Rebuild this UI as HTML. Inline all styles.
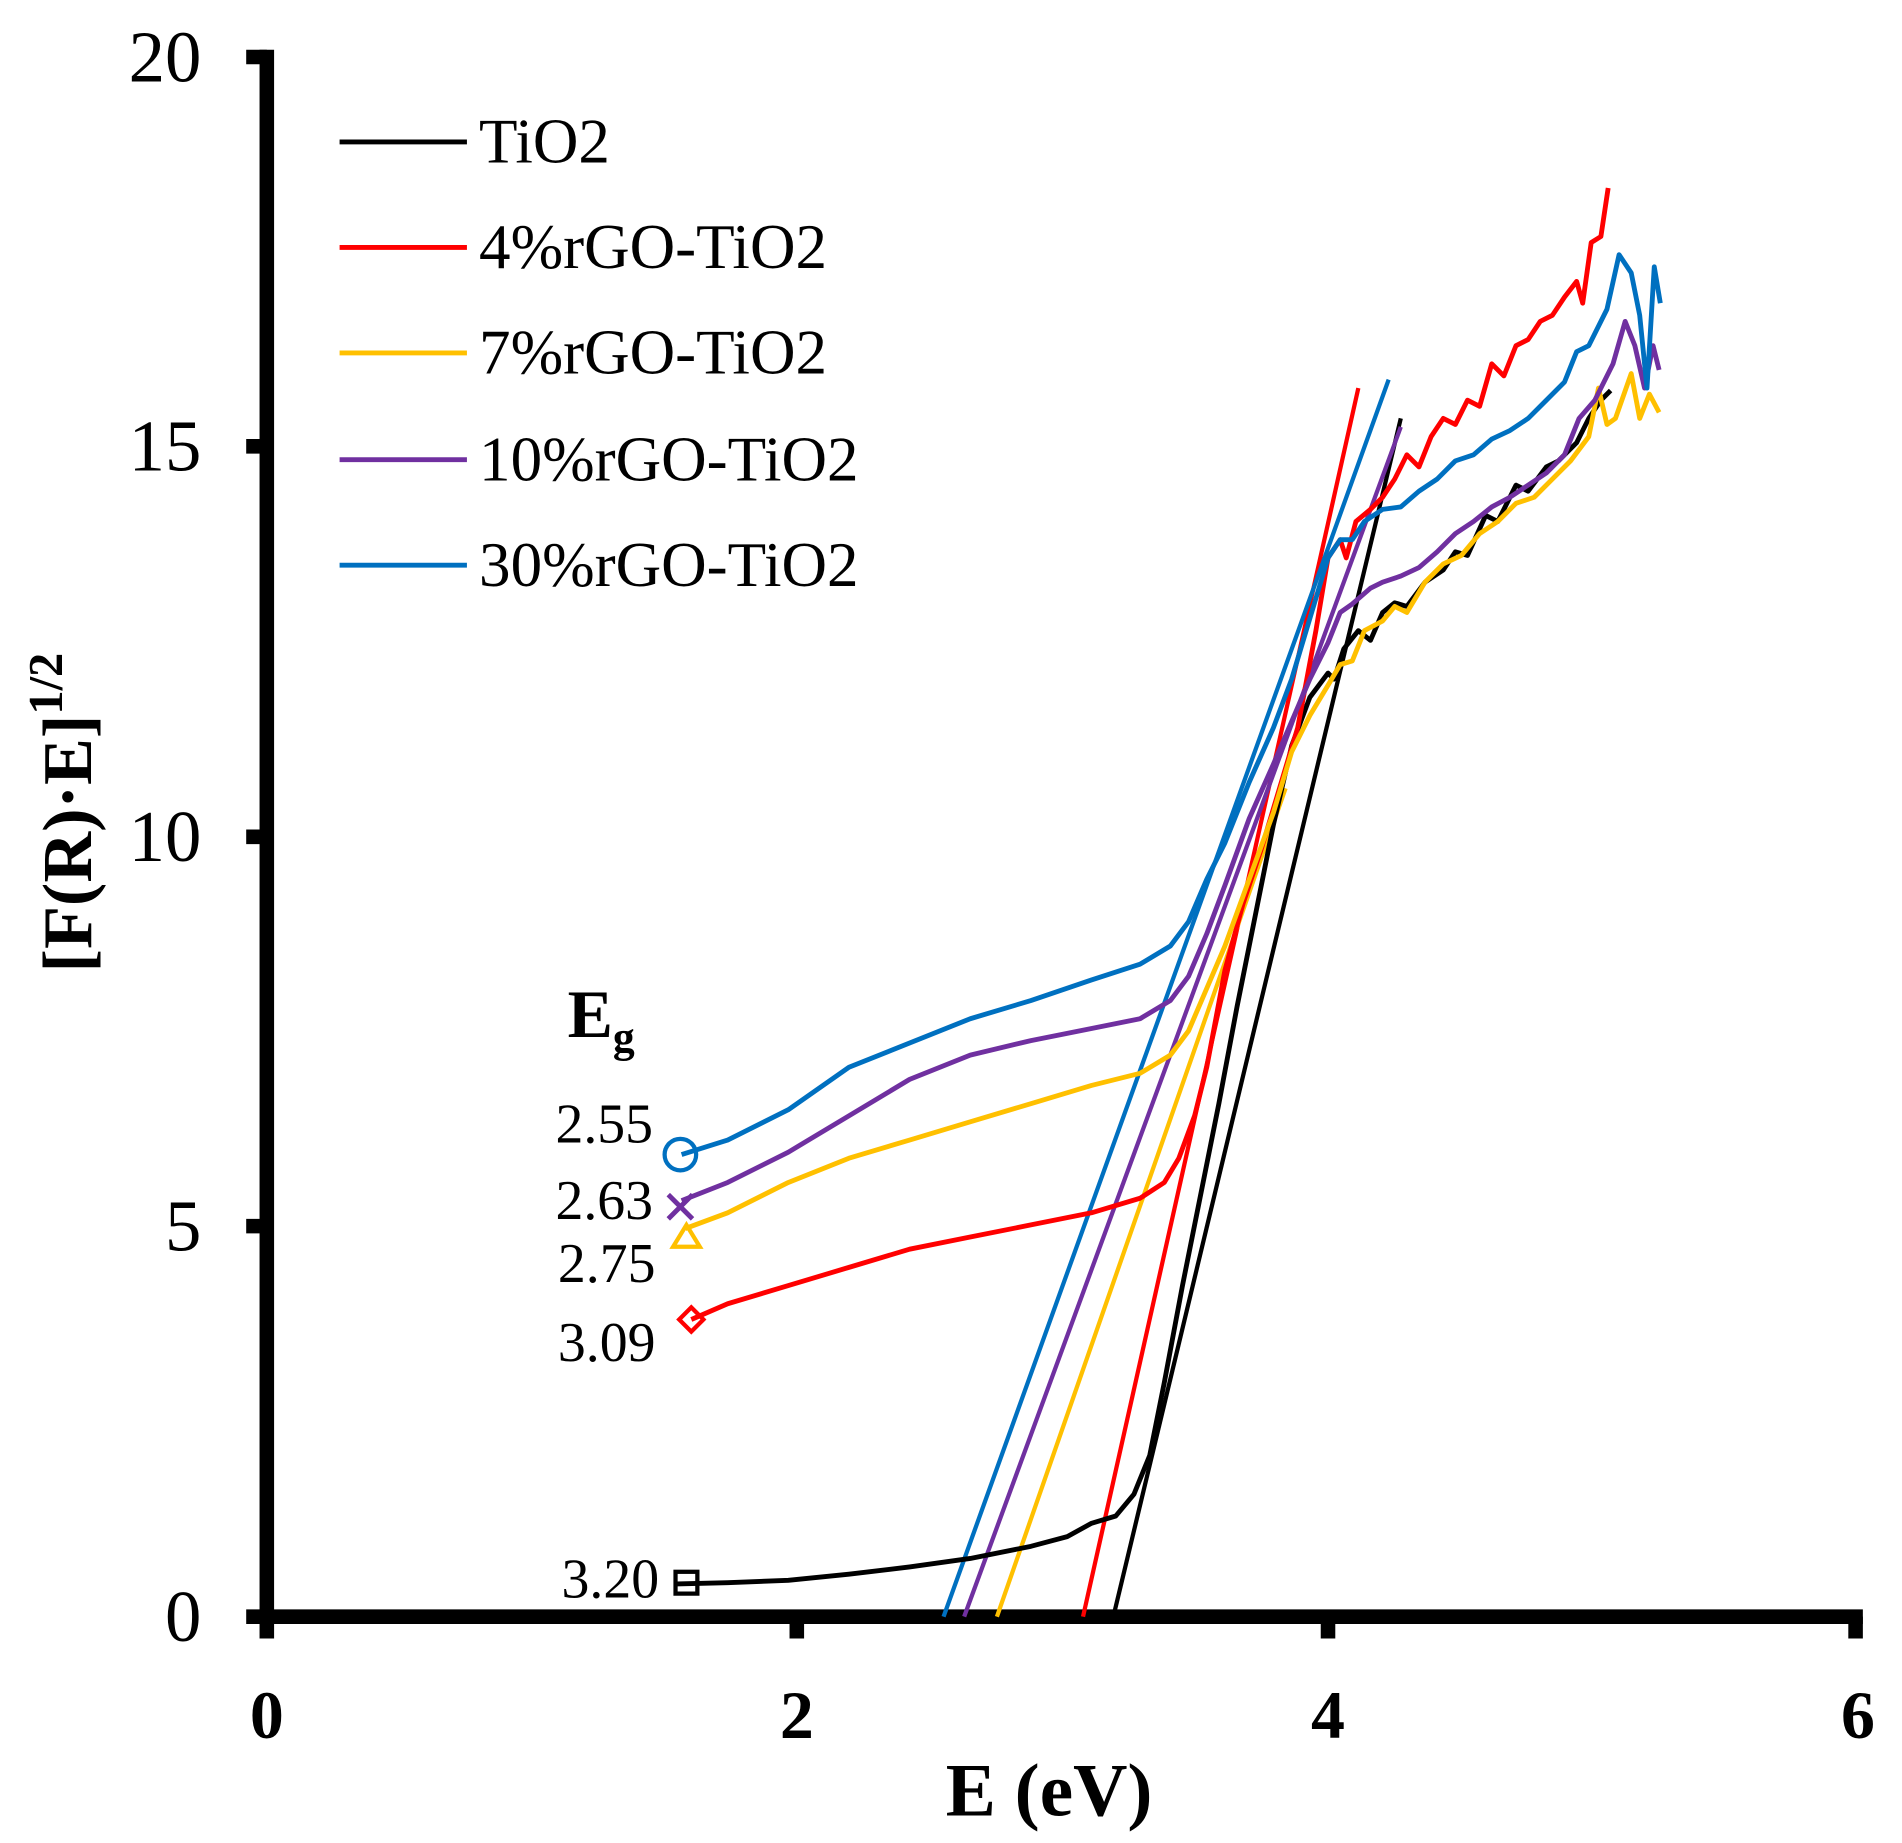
<!DOCTYPE html>
<html><head><meta charset="utf-8"><style>html,body{margin:0;padding:0;background:#fff}svg{display:block}</style></head><body>
<svg width="1902" height="1843" viewBox="0 0 1902 1843" xmlns="http://www.w3.org/2000/svg">
<g transform="scale(1.2128)" font-family="Liberation Serif, serif">
<!-- axes -->
<g stroke="#000" stroke-width="12" fill="none">
<line x1="220" y1="41" x2="220" y2="1339"/>
<line x1="214" y1="1333" x2="1536" y2="1333"/>
<line x1="203" y1="47" x2="220" y2="47"/>
<line x1="203" y1="368" x2="220" y2="368"/>
<line x1="203" y1="690" x2="220" y2="690"/>
<line x1="203" y1="1011" x2="220" y2="1011"/>
<line x1="203" y1="1333" x2="220" y2="1333"/>
<line x1="220" y1="1333" x2="220" y2="1351"/>
<line x1="657" y1="1333" x2="657" y2="1351"/>
<line x1="1095" y1="1333" x2="1095" y2="1351"/>
<line x1="1530" y1="1333" x2="1530" y2="1351"/>
</g>
<g font-size="60" text-anchor="end">
<text x="166" y="67">20</text>
<text x="166" y="388">15</text>
<text x="166" y="710">10</text>
<text x="166" y="1031">5</text>
<text x="166" y="1353">0</text>
</g>
<g font-size="56" font-weight="bold" text-anchor="middle">
<text x="220" y="1433">0</text>
<text x="657" y="1433">2</text>
<text x="1095" y="1433">4</text>
<text x="1532" y="1433">6</text>
<text x="865" y="1497" font-size="62">E (eV)</text>
</g>
<text transform="translate(75,670) rotate(-90)" text-anchor="middle" font-size="58" font-weight="bold">[F(R)·E]<tspan font-size="40" dy="-24">1/2</tspan></text>
<!-- legend -->
<g stroke-width="4">
<line x1="280" y1="117" x2="385" y2="117" stroke="#000"/>
<line x1="280" y1="204" x2="385" y2="204" stroke="#ff0000"/>
<line x1="280" y1="291" x2="385" y2="291" stroke="#ffc000"/>
<line x1="280" y1="379" x2="385" y2="379" stroke="#7030a0"/>
<line x1="280" y1="466" x2="385" y2="466" stroke="#0070c0"/>
</g>
<g font-size="52">
<text x="395" y="134">TiO2</text>
<text x="395" y="221">4%rGO-TiO2</text>
<text x="395" y="308">7%rGO-TiO2</text>
<text x="395" y="396">10%rGO-TiO2</text>
<text x="395" y="483">30%rGO-TiO2</text>
</g>
<!-- tangent lines -->
<g stroke-width="3.5" fill="none">
<line x1="918" y1="1333" x2="1155" y2="345" stroke="#000"/>
<line x1="893" y1="1333" x2="1120" y2="320" stroke="#ff0000"/>
<line x1="822" y1="1333" x2="1060" y2="650" stroke="#ffc000"/>
<line x1="795" y1="1333" x2="1155" y2="352" stroke="#7030a0"/>
<line x1="778" y1="1333" x2="1145" y2="313" stroke="#0070c0"/>
</g>
<!-- data -->
<g stroke-width="4" fill="none" stroke-linejoin="round">
<polyline stroke="#000" points="558,1306 600,1305 650,1303 700,1298 750,1292 800,1285 850,1275 880,1267 900,1256 920,1250 935,1232 948,1200 960,1140 975,1060 990,985 1005,910 1020,830 1035,755 1050,680 1065,615 1080,575 1095,555 1100,560 1108,535 1120,520 1130,528 1140,505 1150,497 1160,500 1175,480 1190,470 1200,455 1210,458 1225,425 1235,430 1250,400 1260,405 1275,385 1285,380 1300,365 1310,345 1320,330 1328,322"/>
<polyline stroke="#ff0000" points="570,1088 600,1075 650,1060 700,1045 750,1030 800,1020 850,1010 900,1000 940,988 960,975 972,955 985,920 995,880 1010,800 1025,745 1040,700 1055,650 1070,600 1085,520 1095,460 1105,445 1110,460 1118,430 1130,420 1140,410 1150,395 1160,375 1170,385 1180,360 1190,345 1200,350 1210,330 1220,335 1230,300 1240,310 1250,285 1260,280 1270,265 1280,260 1290,245 1300,232 1305,250 1312,200 1320,195 1326,155"/>
<polyline stroke="#ffc000" points="565,1013 600,1000 650,975 700,955 750,940 800,925 850,910 900,895 940,885 965,870 980,850 995,815 1010,780 1030,725 1050,670 1065,620 1080,590 1095,565 1105,548 1115,545 1125,520 1140,512 1150,500 1160,505 1175,480 1190,465 1205,458 1220,440 1235,430 1250,415 1265,410 1280,395 1295,380 1310,360 1318,320 1325,350 1332,345 1345,308 1352,345 1360,325 1368,340"/>
<polyline stroke="#7030a0" points="562,990 600,975 650,950 700,920 750,890 800,870 850,858 900,848 940,840 965,825 980,805 995,770 1010,730 1030,675 1050,630 1065,595 1080,560 1095,530 1105,505 1115,498 1130,485 1140,480 1155,475 1170,468 1185,455 1200,440 1215,430 1230,418 1245,410 1260,400 1275,390 1290,375 1302,345 1315,330 1330,300 1340,265 1348,285 1356,320 1363,285 1368,305"/>
<polyline stroke="#0070c0" points="562,952 600,940 650,915 700,880 750,860 800,840 850,825 900,808 940,795 965,780 980,760 995,725 1010,695 1030,645 1050,600 1065,560 1080,510 1095,460 1105,445 1115,445 1125,430 1140,420 1155,418 1170,405 1185,395 1200,380 1215,375 1230,362 1245,355 1260,345 1275,330 1290,315 1300,290 1310,285 1325,255 1335,210 1345,225 1352,260 1358,320 1364,220 1369,250"/>
</g>
<!-- markers -->
<g stroke-width="3.5" fill="none">
<circle cx="561" cy="952" r="13" stroke="#0070c0"/>
<path d="M551,985 L571,1005 M571,985 L551,1005" stroke="#7030a0" stroke-width="4"/>
<path d="M566,1010 L577,1028 L555,1028 Z" stroke="#ffc000"/>
<path d="M570,1078 L580,1088 L570,1098 L560,1088 Z" stroke="#ff0000"/>
<rect x="557" y="1296" width="18" height="18" stroke="#000"/>
</g>
<g font-size="46">
<text x="468" y="855" font-size="56" font-weight="bold">E<tspan font-size="36" dy="12">g</tspan></text>
<text x="458" y="942">2.55</text>
<text x="458" y="1005">2.63</text>
<text x="460" y="1057">2.75</text>
<text x="460" y="1122">3.09</text>
<text x="463" y="1317">3.20</text>
</g>
</g>
</svg>
</body></html>
